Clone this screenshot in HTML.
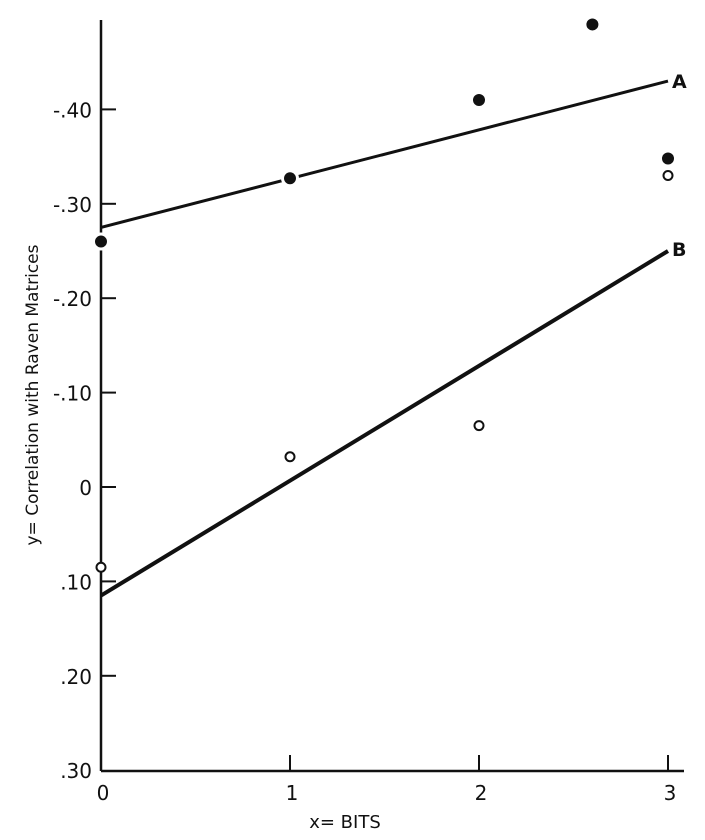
<!DOCTYPE html>
<html><head><meta charset="utf-8"><style>
html,body{margin:0;padding:0;background:#fff;}
svg{display:block;font-family:"DejaVu Sans","Liberation Sans",sans-serif;}
</style></head><body>
<svg id="chart" width="705" height="840" viewBox="0 0 705 840" xmlns="http://www.w3.org/2000/svg"></svg>
<script>
const xTicks = [0, 1, 2, 3];
const yTicks = [0.40, 0.30, 0.20, 0.10, 0, -0.10, -0.20, -0.30];
const yTickLabels = ["-.40", "-.30", "-.20", "-.10", "0", ".10", ".20", ".30"];
const filledX = [0, 1, 2, 2.6, 3];
const filledY = [0.26, 0.327, 0.41, 0.49, 0.348];
const openX = [0, 1, 2, 3];
const openY = [-0.085, 0.032, 0.065, 0.33];
const lineAX = [0, 3];
const lineAY = [0.275, 0.43];
const lineBX = [0, 3];
const lineBY = [-0.115, 0.25];

const svg = document.getElementById('chart');
const NS = 'http://www.w3.org/2000/svg';
const X0 = 101, XS = 189, Y0 = 487, YS = 944;
const sx = v => X0 + v * XS;
const sy = v => Y0 - v * YS;
function mk(tag, attrs, parent) {
  const e = document.createElementNS(NS, tag);
  for (const k in attrs) e.setAttribute(k, attrs[k]);
  (parent || svg).appendChild(e);
  return e;
}
// axes
let e = mk('line', {x1: X0, y1: 20, x2: X0, y2: 771, stroke: '#111', 'stroke-width': 2.5});


e = mk('line', {x1: X0, y1: 771, x2: 684, y2: 771, stroke: '#111', 'stroke-width': 2.5});


yTicks.forEach((v, i) => {
  const y = sy(v);
  if (i < yTicks.length - 1) {
    const t = mk('line', {x1: X0, y1: y, x2: X0 + 15, y2: y, stroke: '#111', 'stroke-width': 2});
    
    
  }
  const tx = mk('text', {x: 92, y: y + 8, 'text-anchor': 'end', 'font-size': 20, fill: '#111'});
  tx.textContent = yTickLabels[i];
  
  
});
xTicks.forEach(v => {
  const x = sx(v);
  if (v > 0) {
    const t = mk('line', {x1: x, y1: 771, x2: x, y2: 755, stroke: '#111', 'stroke-width': 2});
    
    
  }
  const tx = mk('text', {x: x + 2, y: 800, 'text-anchor': 'middle', 'font-size': 20, fill: '#111'});
  tx.textContent = String(v);
  
  
});
e = mk('text', {x: 345, y: 828, 'text-anchor': 'middle', 'font-size': 18, fill: '#111'});
e.textContent = 'x= BITS';


e = mk('text', {x: 38, y: 395, 'text-anchor': 'middle', 'font-size': 17, fill: '#111', transform: 'rotate(-90 38 395)'});
e.textContent = 'y= Correlation with Raven Matrices';


// lines
e = mk('line', {x1: sx(lineAX[0]), y1: sy(lineAY[0]), x2: sx(lineAX[1]), y2: sy(lineAY[1]), stroke: '#111', 'stroke-width': 3});


e = mk('line', {x1: sx(lineBX[0]), y1: sy(lineBY[0]), x2: sx(lineBX[1]), y2: sy(lineBY[1]), stroke: '#111', 'stroke-width': 4});


e = mk('text', {x: 672, y: sy(lineAY[1]) + 7, 'font-size': 19, fill: '#111', 'font-weight': 'bold'});
e.textContent = 'A';


e = mk('text', {x: 672, y: sy(lineBY[1]) + 5, 'font-size': 19, fill: '#111', 'font-weight': 'bold'});
e.textContent = 'B';


// points
filledX.forEach((v, i) => {
  const p = mk('circle', {cx: sx(v), cy: sy(filledY[i]), r: 6, fill: '#111', stroke: '#fff', 'stroke-width': 6, 'paint-order': 'stroke'});
  
  
});
openX.forEach((v, i) => {
  const p = mk('circle', {cx: sx(v), cy: sy(openY[i]), r: 4.5, fill: '#fff', stroke: '#111', 'stroke-width': 2});
  
  
});
</script>
</body></html>
